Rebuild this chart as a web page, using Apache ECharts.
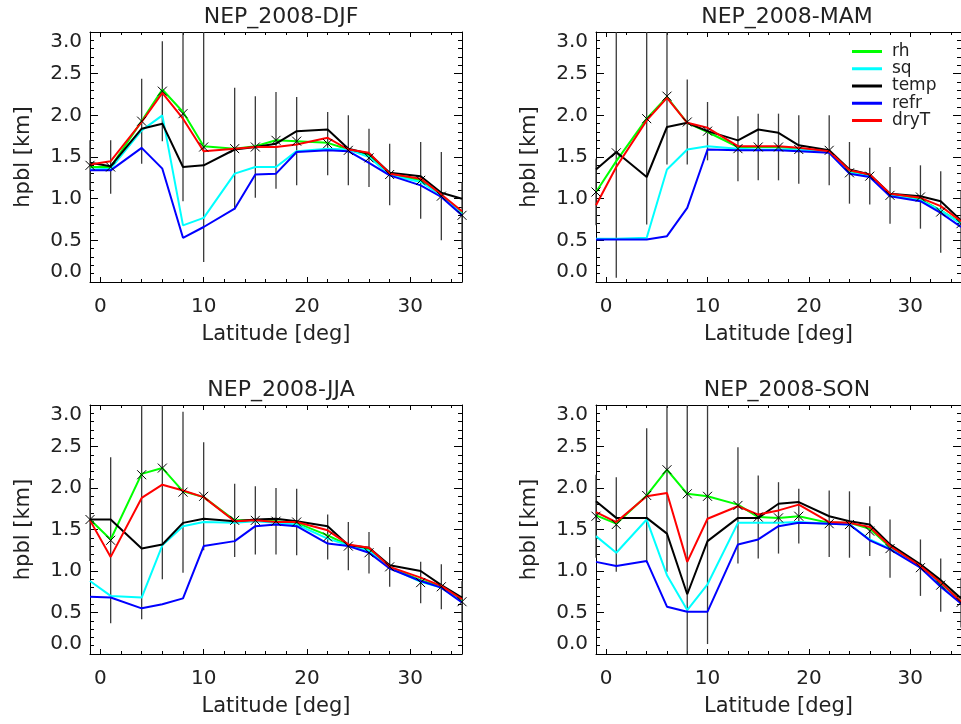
<!DOCTYPE html>
<html><head><meta charset="utf-8">
<script src="https://cdn.jsdelivr.net/npm/echarts@6/dist/echarts.min.js"></script>
<style>html,body{margin:0;padding:0;background:#fff}#c{width:961px;height:724px}</style>
</head><body><div id="c"></div>
<script>
// ---- data ----
const lat = [-1, 1, 4, 6, 8, 10, 13, 15, 17, 19, 22, 24, 26, 28, 31, 33, 35];
const seriesNames = ['rh', 'sq', 'temp', 'refr', 'dryT'];
const panelTitles = ['NEP_2008-DJF', 'NEP_2008-MAM', 'NEP_2008-JJA', 'NEP_2008-SON'];
const xMajorTicks = [0, 10, 20, 30];
const xMinorTicks = [2, 4, 6, 8, 12, 14, 16, 18, 22, 24, 26, 28, 32, 34];
const yLabelTicks = [0.5, 1.0, 1.5, 2.0, 2.5];
const yMajorTicks = [0, 0.5, 1.0, 1.5, 2.0, 2.5, 3.0];
const yMinorTicks = [0.1,0.2,0.3,0.4,0.6,0.7,0.8,0.9,1.1,1.2,1.3,1.4,1.6,1.7,1.8,1.9,2.1,2.2,2.3,2.4,2.6,2.7,2.8,2.9];

const djfRh   = [1.38, 1.38, 1.93, 2.31, 2.04, 1.63, 1.60, 1.63, 1.70, 1.69, 1.67, 1.59, 1.52, 1.29, 1.22, 1.04, 0.82];
const djfSq   = [1.35, 1.36, 1.82, 2.00, 0.68, 0.77, 1.30, 1.38, 1.38, 1.57, 1.60, 1.59, 1.50, 1.28, 1.20, 1.04, 0.81];
const djfTemp = [1.43, 1.39, 1.84, 1.90, 1.38, 1.40, 1.59, 1.62, 1.66, 1.81, 1.83, 1.60, 1.54, 1.31, 1.27, 1.07, 1.00];
const djfRefr = [1.34, 1.34, 1.61, 1.36, 0.53, 0.66, 0.88, 1.29, 1.30, 1.56, 1.58, 1.57, 1.43, 1.28, 1.16, 1.02, 0.80];
const djfDryT = [1.41, 1.45, 1.92, 2.27, 1.96, 1.57, 1.60, 1.62, 1.62, 1.65, 1.73, 1.59, 1.55, 1.30, 1.24, 1.05, 0.85];
const djfMean = [1.40, 1.38, 1.93, 2.29, 2.02, 1.62, 1.60, 1.62, 1.70, 1.69, 1.66, 1.58, 1.49, 1.29, 1.22, 1.03, 0.80];
const djfErr  = [0.30, 0.32, 0.51, 0.60, 1.05, 1.38, 0.73, 0.61, 0.58, 0.53, 0.38, 0.42, 0.35, 0.37, 0.46, 0.53, 0.40];

const mamRh   = [1.08, 1.45, 1.96, 2.22, 1.91, 1.80, 1.62, 1.62, 1.62, 1.60, 1.56, 1.32, 1.27, 1.05, 0.99, 0.86, 0.71];
const mamSq   = [0.52, 0.52, 0.53, 1.35, 1.59, 1.63, 1.60, 1.59, 1.59, 1.59, 1.56, 1.31, 1.27, 1.04, 0.98, 0.86, 0.70];
const mamTemp = [1.35, 1.56, 1.26, 1.86, 1.91, 1.81, 1.70, 1.83, 1.79, 1.64, 1.58, 1.35, 1.29, 1.06, 1.03, 0.97, 0.74];
const mamRefr = [0.51, 0.51, 0.51, 0.55, 0.89, 1.59, 1.58, 1.58, 1.58, 1.57, 1.55, 1.30, 1.26, 1.03, 0.97, 0.83, 0.66];
const mamDryT = [0.92, 1.38, 1.94, 2.21, 1.91, 1.85, 1.63, 1.63, 1.63, 1.61, 1.57, 1.34, 1.29, 1.06, 1.01, 0.91, 0.73];
const mamMean = [1.08, 1.55, 1.96, 2.23, 1.92, 1.81, 1.60, 1.62, 1.62, 1.59, 1.58, 1.31, 1.27, 1.04, 1.02, 0.84, 0.70];
const mamErr  = [0.40, 1.50, 1.27, 0.82, 0.51, 0.35, 0.39, 0.40, 0.40, 0.41, 0.42, 0.37, 0.34, 0.34, 0.38, 0.49, 0.40];

const jjaRh   = [1.62, 1.38, 2.17, 2.24, 1.96, 1.89, 1.61, 1.61, 1.60, 1.58, 1.43, 1.31, 1.26, 1.04, 0.89, 0.81, 0.64];
const jjaSq   = [0.88, 0.70, 0.68, 1.31, 1.54, 1.59, 1.58, 1.60, 1.58, 1.56, 1.39, 1.31, 1.24, 1.04, 0.87, 0.80, 0.63];
const jjaTemp = [1.62, 1.62, 1.27, 1.32, 1.58, 1.63, 1.60, 1.62, 1.63, 1.60, 1.54, 1.31, 1.28, 1.07, 1.00, 0.83, 0.68];
const jjaRefr = [0.69, 0.68, 0.55, 0.60, 0.67, 1.30, 1.36, 1.54, 1.56, 1.54, 1.33, 1.30, 1.22, 1.03, 0.88, 0.80, 0.62];
const jjaDryT = [1.61, 1.17, 1.88, 2.04, 1.97, 1.89, 1.60, 1.61, 1.59, 1.59, 1.49, 1.32, 1.28, 1.05, 0.92, 0.82, 0.66];
const jjaMean = [1.62, 1.37, 2.16, 2.24, 1.95, 1.90, 1.61, 1.61, 1.60, 1.59, 1.41, 1.30, 1.22, 1.05, 0.86, 0.81, 0.63];
const jjaErr  = [0.50, 1.00, 1.74, 1.34, 0.97, 0.65, 0.44, 0.41, 0.40, 0.40, 0.27, 0.29, 0.25, 0.24, 0.25, 0.27, 0.25];

const sonRh   = [1.67, 1.57, 1.91, 2.22, 1.93, 1.90, 1.80, 1.65, 1.64, 1.66, 1.58, 1.58, 1.51, 1.29, 1.06, 0.86, 0.63];
const sonSq   = [1.42, 1.22, 1.62, 0.95, 0.53, 0.84, 1.58, 1.58, 1.58, 1.59, 1.57, 1.56, 1.38, 1.27, 1.05, 0.83, 0.62];
const sonTemp = [1.84, 1.64, 1.64, 1.45, 0.72, 1.36, 1.64, 1.64, 1.81, 1.83, 1.66, 1.60, 1.56, 1.32, 1.08, 0.89, 0.67];
const sonRefr = [1.11, 1.06, 1.12, 0.57, 0.51, 0.51, 1.32, 1.38, 1.54, 1.58, 1.57, 1.56, 1.37, 1.26, 1.04, 0.81, 0.61];
const sonDryT = [1.71, 1.59, 1.90, 1.94, 1.11, 1.63, 1.78, 1.68, 1.73, 1.80, 1.59, 1.58, 1.53, 1.30, 1.06, 0.86, 0.63];
const sonMean = [1.66, 1.56, 1.91, 2.22, 1.93, 1.90, 1.79, 1.65, 1.64, 1.66, 1.57, 1.56, 1.48, 1.27, 1.04, 0.83, 0.62];
const sonErr  = [0.50, 0.57, 0.81, 1.23, 2.00, 1.78, 0.70, 0.50, 0.43, 0.33, 0.40, 0.40, 0.30, 0.35, 0.34, 0.32, 0.30];

// ---- build ----
const panels = [
  {lines: [djfRh, djfSq, djfTemp, djfRefr, djfDryT], mean: djfMean, err: djfErr},
  {lines: [mamRh, mamSq, mamTemp, mamRefr, mamDryT], mean: mamMean, err: mamErr},
  {lines: [jjaRh, jjaSq, jjaTemp, jjaRefr, jjaDryT], mean: jjaMean, err: jjaErr},
  {lines: [sonRh, sonSq, sonTemp, sonRefr, sonDryT], mean: sonMean, err: sonErr}
];
const colors = ['#00ff00', '#00ffff', '#000000', '#0000ff', '#ff0000'];
const FONT = 'DejaVu Sans';
const TXT = '#222';
const gridPos = [
  {left: 90, top: 32, width: 372, height: 250},
  {left: 596, top: 32, width: 372, height: 250},
  {left: 90, top: 405, width: 372, height: 249},
  {left: 596, top: 405, width: 372, height: 249}
];
const XMIN = -1, XMAX = 35, YMIN = 0, YMAX = 3;
const axLine = {show: true, onZero: false, lineStyle: {color: '#000', width: 1}};
const noLine = {show: false, onZero: false};

const xAxes = [], yAxes = [], series = [], titles = [];
gridPos.forEach((g, gi) => {
  const base = {type: 'value', gridIndex: gi, min: XMIN, max: XMAX, splitLine: {show: false}};
  xAxes.push(Object.assign({}, base, {
    position: 'bottom', axisLine: axLine,
    axisTick: {show: true, inside: true, length: 5, customValues: xMajorTicks, lineStyle: {color: '#000'}},
    axisLabel: {show: true, customValues: xMajorTicks, margin: 15, fontFamily: FONT, fontSize: 20, color: TXT, formatter: v => String(v)},
    name: 'Latitude [deg]', nameLocation: 'middle', nameGap: 42,
    nameTextStyle: {fontFamily: FONT, fontSize: 21, color: TXT}
  }));
  xAxes.push(Object.assign({}, base, {
    position: 'bottom', axisLine: noLine,
    axisTick: {show: true, inside: true, length: 3, customValues: xMinorTicks, lineStyle: {color: '#000'}},
    axisLabel: {show: false}
  }));
  xAxes.push(Object.assign({}, base, {
    position: 'top', axisLine: axLine,
    axisTick: {show: true, inside: true, length: 5, customValues: xMajorTicks, lineStyle: {color: '#000'}},
    axisLabel: {show: false}
  }));
  xAxes.push(Object.assign({}, base, {
    position: 'top', axisLine: noLine,
    axisTick: {show: true, inside: true, length: 3, customValues: xMinorTicks, lineStyle: {color: '#000'}},
    axisLabel: {show: false}
  }));
  const yb = {type: 'value', gridIndex: gi, min: YMIN, max: YMAX, splitLine: {show: false}};
  const lbl = {fontFamily: FONT, fontSize: 20, color: TXT, margin: 8, formatter: v => v.toFixed(1)};
  yAxes.push(Object.assign({}, yb, {
    position: 'left', axisLine: axLine,
    axisTick: {show: true, inside: true, length: 8, customValues: yMajorTicks, lineStyle: {color: '#000'}},
    axisLabel: Object.assign({show: true, customValues: yLabelTicks}, lbl),
    name: 'hpbl [km]', nameLocation: 'middle', nameGap: 56,
    nameTextStyle: {fontFamily: FONT, fontSize: 21, color: TXT}
  }));
  yAxes.push(Object.assign({}, yb, {
    position: 'left', axisLine: noLine,
    axisTick: {show: true, inside: true, length: 4, customValues: yMinorTicks, lineStyle: {color: '#000'}},
    axisLabel: Object.assign({show: true, customValues: [0], verticalAlign: 'bottom'}, lbl)
  }));
  yAxes.push(Object.assign({}, yb, {
    position: 'left', axisLine: noLine, axisTick: {show: false},
    axisLabel: Object.assign({show: true, customValues: [3], verticalAlign: 'top'}, lbl)
  }));
  yAxes.push(Object.assign({}, yb, {
    position: 'right', axisLine: axLine,
    axisTick: {show: true, inside: true, length: 8, customValues: yMajorTicks, lineStyle: {color: '#000'}},
    axisLabel: {show: false}
  }));
  yAxes.push(Object.assign({}, yb, {
    position: 'right', axisLine: noLine,
    axisTick: {show: true, inside: true, length: 4, customValues: yMinorTicks, lineStyle: {color: '#000'}},
    axisLabel: {show: false}
  }));

  const p = panels[gi];
  const xi = gi * 4, yi = gi * 5;
  const pts = lat.map((x, i) => [x, p.mean[i], p.err[i]]);
  // error bars
  series.push({
    type: 'custom', xAxisIndex: xi, yAxisIndex: yi, z: 1, silent: true,
    encode: {x: 0, y: 1}, data: pts,
    renderItem: (params, api) => {
      const x = api.value(0), m = api.value(1), e = api.value(2);
      const lo = Math.max(m - e, YMIN), hi = Math.min(m + e, YMAX);
      const a = api.coord([x, lo]), b = api.coord([x, hi]);
      return {type: 'line', shape: {x1: a[0], y1: a[1], x2: b[0], y2: b[1]},
              style: {stroke: '#3a3a3a', lineWidth: 1.3}};
    }
  });
  p.lines.forEach((d, k) => {
    series.push({
      type: 'line', name: seriesNames[k], xAxisIndex: xi, yAxisIndex: yi, z: 2 + k,
      data: lat.map((x, i) => [x, d[i]]), symbol: 'none', showSymbol: false,
      lineStyle: {color: colors[k], width: 2}, itemStyle: {color: colors[k]},
      clip: true, silent: true
    });
  });
  // x markers
  series.push({
    type: 'custom', xAxisIndex: xi, yAxisIndex: yi, z: 10, silent: true,
    encode: {x: 0, y: 1}, data: pts,
    renderItem: (params, api) => {
      const c = api.coord([api.value(0), api.value(1)]);
      const s = 4.5;
      return {type: 'group', children: [
        {type: 'line', shape: {x1: c[0] - s, y1: c[1] - s, x2: c[0] + s, y2: c[1] + s}, style: {stroke: '#000', lineWidth: 1}},
        {type: 'line', shape: {x1: c[0] - s, y1: c[1] + s, x2: c[0] + s, y2: c[1] - s}, style: {stroke: '#000', lineWidth: 1}}
      ]};
    }
  });
  titles.push({
    text: panelTitles[gi], left: g.left + g.width / 2, textAlign: 'center',
    top: gi < 2 ? 1 : 374,
    textStyle: {fontFamily: FONT, fontSize: 22, fontWeight: 'normal', color: TXT}
  });
});

const chart = echarts.init(document.getElementById('c'), null, {renderer: 'canvas'});
chart.setOption({
  animation: false,
  backgroundColor: '#fff',
  title: titles,
  grid: gridPos,
  xAxis: xAxes,
  yAxis: yAxes,
  legend: {
    data: seriesNames, orient: 'vertical', left: 852, top: 43, padding: 0,
    icon: 'rect', itemWidth: 30, itemHeight: 3, itemGap: 0.25, selectedMode: false,
    textStyle: {fontFamily: FONT, fontSize: 17, lineHeight: 16, color: TXT, padding: [0, 0, 0, 5]}
  },
  series: series
});
</script>
</body></html>
